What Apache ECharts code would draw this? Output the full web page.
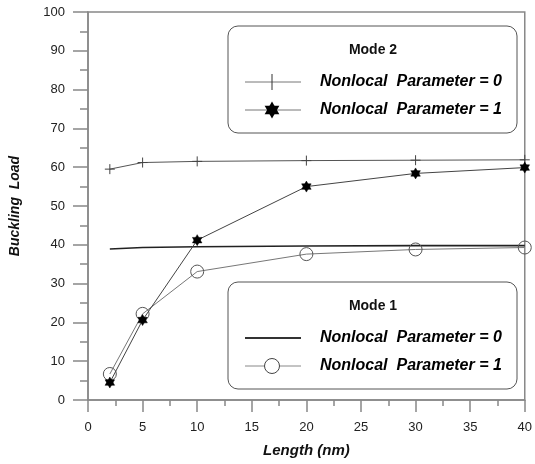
<!DOCTYPE html>
<html>
<head>
<meta charset="utf-8">
<script src="https://cdn.jsdelivr.net/npm/echarts@6/dist/echarts.min.js"></script>
<style>html,body{margin:0;padding:0;background:#fff;}#c{width:535px;height:464px;}</style>
</head>
<body>
<div id="c"></div>
<script>
// Data
const lengths = [2, 5, 10, 20, 30, 40];
const mode2Np0 = [59.5, 61.2, 61.5, 61.7, 61.8, 61.9];
const mode2Np1 = [4.5, 20.6, 41.2, 55.0, 58.4, 59.9];
const mode1Np0 = [38.9, 39.3, 39.5, 39.7, 39.8, 39.8];
const mode1Np1 = [6.7, 22.2, 33.1, 37.6, 38.8, 39.3];
const seriesNames = ['Nonlocal  Parameter = 0', 'Nonlocal  Parameter = 1'];
const modeTitles = ['Mode 2', 'Mode 1'];
const xName = 'Length (nm)';
const yName = 'Buckling  Load';

const pair = (xs, ys) => xs.map((x, i) => [x, ys[i]]);
const STAR = 'path://M0,-10L8.66,5L-8.66,5Z M0,10L-8.66,-5L8.66,-5Z';
const PLUS = 'path://M0,-5L0,5M-5,0L5,0';
const FONT = 'Liberation Sans';

function hexagram(cx, cy, R) {
  const k = 0.866 * R;
  return [
    { type: 'polygon', shape: { points: [[cx, cy - R], [cx + k, cy + R / 2], [cx - k, cy + R / 2]] }, style: { fill: '#000' } },
    { type: 'polygon', shape: { points: [[cx, cy + R], [cx - k, cy - R / 2], [cx + k, cy - R / 2]] }, style: { fill: '#000' } }
  ];
}

function legendBox(top, title, lines) {
  const els = [];
  els.push({ type: 'rect', shape: { x: 228, y: top, width: 289, height: 107, r: 10 }, style: { fill: 'none', stroke: '#555', lineWidth: 1 } });
  els.push({ type: 'text', style: { text: title, x: 373, y: top + 24, textAlign: 'center', textVerticalAlign: 'middle', font: 'bold 14px "' + FONT + '"', fill: '#111' } });
  const rows = [top + 56, top + 84];
  rows.forEach((y, i) => {
    els.push({ type: 'line', shape: { x1: 245, y1: y, x2: 301, y2: y }, style: { stroke: lines[i].stroke, lineWidth: lines[i].width } });
    els.push(...lines[i].marker(272, y));
    els.push({ type: 'text', style: { text: seriesNames[i], x: 320, y: y, textAlign: 'left', textVerticalAlign: 'middle', font: 'italic bold 16px "' + FONT + '"', fill: '#000' } });
  });
  return els;
}

const graphics = [].concat(
  legendBox(26, modeTitles[0], [
    { stroke: '#777', width: 1, marker: (x, y) => [{ type: 'line', shape: { x1: x, y1: y - 8, x2: x, y2: y + 8 }, style: { stroke: '#333', lineWidth: 1 } }] },
    { stroke: '#777', width: 1, marker: (x, y) => hexagram(x, y, 8.5) }
  ]),
  legendBox(282, modeTitles[1], [
    { stroke: '#333', width: 2, marker: () => [] },
    { stroke: '#888', width: 1, marker: (x, y) => [{ type: 'circle', shape: { cx: x, cy: y, r: 7.5 }, style: { fill: '#fff', stroke: '#444', lineWidth: 1 } }] }
  ])
);

const chart = echarts.init(document.getElementById('c'));
chart.setOption({
  animation: false,
  backgroundColor: '#fff',
  grid: { left: 88, top: 12, right: 7, bottom: 64, show: true, borderColor: '#888', borderWidth: 1.5, backgroundColor: 'transparent' },
  xAxis: {
    type: 'value', min: 0, max: 40, interval: 5,
    name: xName, nameLocation: 'middle', nameGap: 43,
    nameTextStyle: { fontFamily: FONT, fontWeight: 'bold', fontStyle: 'italic', fontSize: 15, color: '#111' },
    axisLine: { lineStyle: { color: '#888', width: 1.5 } },
    axisTick: { length: 12, lineStyle: { color: '#888', width: 1.5 } },
    minorTick: { show: true, splitNumber: 2, length: 6, lineStyle: { color: '#888', width: 1.5 } },
    splitLine: { show: false },
    axisLabel: { margin: 21, fontFamily: FONT, fontSize: 13, color: '#222' }
  },
  yAxis: {
    type: 'value', min: 0, max: 100, interval: 10,
    name: yName, nameLocation: 'middle', nameGap: 66,
    nameTextStyle: { fontFamily: FONT, fontWeight: 'bold', fontStyle: 'italic', fontSize: 14, color: '#111' },
    axisLine: { lineStyle: { color: '#888', width: 1.5 } },
    axisTick: { length: 15, lineStyle: { color: '#888', width: 1.5 } },
    minorTick: { show: true, splitNumber: 2, length: 8, lineStyle: { color: '#888', width: 1.5 } },
    splitLine: { show: false },
    axisLabel: { margin: 23, fontFamily: FONT, fontSize: 13, color: '#222' }
  },
  series: [
    { name: 'm2np0', type: 'line', data: pair(lengths, mode2Np0), clip: false, symbol: PLUS, symbolSize: 10,
      lineStyle: { color: '#555', width: 1 }, itemStyle: { color: '#444', borderColor: '#444', borderWidth: 1 }, z: 3 },
    { name: 'm2np1', type: 'line', data: pair(lengths, mode2Np1), clip: false, symbol: STAR, symbolSize: 11, symbolKeepAspect: true,
      lineStyle: { color: '#444', width: 1 }, itemStyle: { color: '#000', borderColor: '#000', borderWidth: 0.5 }, z: 4 },
    { name: 'm1np0', type: 'line', data: pair(lengths, mode1Np0), clip: false, showSymbol: false, symbol: 'none',
      lineStyle: { color: '#222', width: 1.6 }, z: 2 },
    { name: 'm1np1', type: 'line', data: pair(lengths, mode1Np1), clip: false, symbol: 'circle', symbolSize: 13,
      lineStyle: { color: '#777', width: 1 }, itemStyle: { color: 'rgba(255,255,255,0)', borderColor: '#555', borderWidth: 1 }, z: 3 }
  ],
  graphic: graphics
});
</script>
</body>
</html>
